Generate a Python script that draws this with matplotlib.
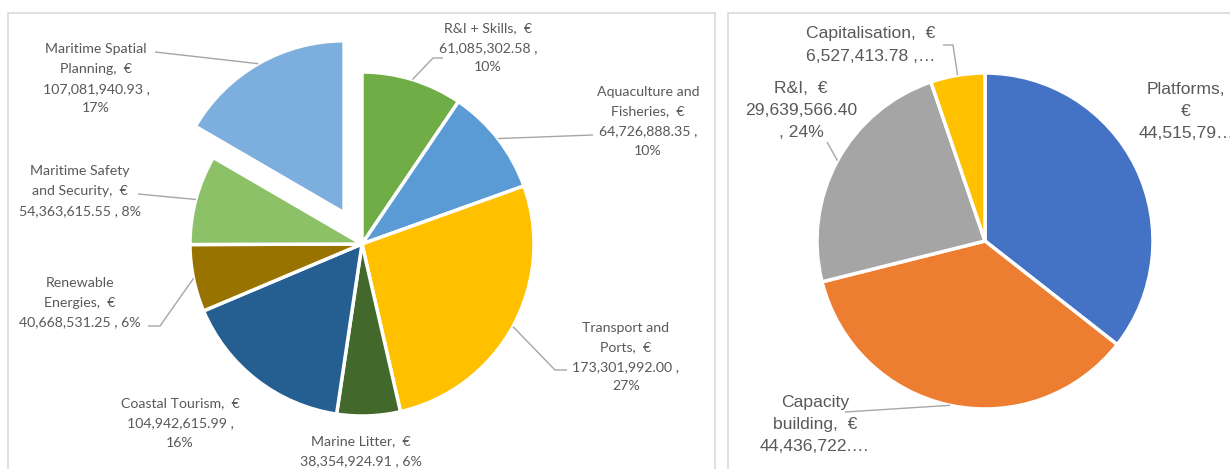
import numpy as np
import matplotlib.pyplot as plt
from matplotlib.patches import Rectangle

W, H = 1230, 469

# budget per theme (left pie)
themes = ["R&I + Skills", "Aquaculture and Fisheries", "Transport and Ports", "Marine Litter",
          "Coastal Tourism", "Renewable Energies", "Maritime Safety and Security",
          "Maritime Spatial Planning"]
theme_budget = [61085302.58, 64726888.35, 173301992.00, 38354924.91,
                104942615.99, 40668531.25, 54363615.55, 107081940.93]
theme_colors = ["#70AD47", "#5B9BD5", "#FFC000", "#43682B",
                "#255E91", "#997300", "#8CC168", "#7CAFDD"]
theme_labels = [
    ["R&I + Skills,  €", "61,085,302.58 ,", "10%"],
    ["Aquaculture and", "Fisheries,  €", "64,726,888.35 ,", "10%"],
    ["Transport and", "Ports,  €", "173,301,992.00 ,", "27%"],
    ["Marine Litter,  €", "38,354,924.91 , 6%"],
    ["Coastal Tourism,  €", "104,942,615.99 ,", "16%"],
    ["Renewable", "Energies,  €", "40,668,531.25 , 6%"],
    ["Maritime Safety", "and Security,  €", "54,363,615.55 , 8%"],
    ["Maritime Spatial", "Planning,  €", "107,081,940.93 ,", "17%"],
]

# budget per activity type (right pie)
activities = ["Platforms", "Capacity building", "R&I", "Capitalisation"]
activity_budget = [44515790.00, 44436722.00, 29639566.40, 6527413.78]
activity_colors = ["#4472C4", "#ED7D31", "#A5A5A5", "#FFC000"]
activity_labels = [
    ["Platforms,", "€", "44,515,79…"],
    ["Capacity", "building,  €", "44,436,722.…"],
    ["R&I,  €", "29,639,566.40", ", 24%"],
    ["Capitalisation,  €", "6,527,413.78 ,…"],
]

TXT = "#595959"
LEAD = "#A6A6A6"

fig = plt.figure(figsize=(W / 100, H / 100), dpi=100)
ax = fig.add_axes([0, 0, 1, 1])

# chart area frames
ax.add_patch(Rectangle((8, -10), 707, H - 13 + 10, fill=False, edgecolor="#D9D9D9", lw=1.2))
ax.add_patch(Rectangle((728, -10), 530, H - 13 + 10, fill=False, edgecolor="#D9D9D9", lw=1.2))

left_wedges, _ = ax.pie(theme_budget, colors=theme_colors, startangle=90, counterclock=False,
                        center=(362, H - 244), radius=172,
                        explode=[0, 0, 0, 0, 0, 0, 0, 36],
                        wedgeprops=dict(edgecolor="white", linewidth=2.5))
right_wedges, _ = ax.pie(activity_budget, colors=activity_colors, startangle=90, counterclock=False,
                         center=(985, H - 241), radius=168,
                         wedgeprops=dict(edgecolor="white", linewidth=2.5))


def anchor(w):
    t = np.deg2rad((w.theta1 + w.theta2) / 2)
    cx, cy = w.center
    return cx + w.r * np.cos(t), cy + w.r * np.sin(t)


def put_label(lines, cx, ys, size, family):
    for s, y in zip(lines, ys):
        ax.text(cx, H - y, s, ha="center", va="center", fontsize=size,
                family=family, color=TXT)


def leader(w, pts):
    x0, y0 = anchor(w)
    xs = [x0] + [p[0] for p in pts]
    ys = [y0] + [H - p[1] for p in pts]
    ax.plot(xs, ys, color=LEAD, lw=1.0, solid_capstyle="butt")


# left labels: center x, line y positions, leader elbow points
left_pos = [
    (488, [28, 48, 67], [(433, 58), (443, 58)]),
    (648, [92, 111, 131, 151], [(593, 135)]),
    (626, [328, 347, 367, 386], [(555, 370), (567, 370)]),
    (361, [441, 461], None),
    (180, [403, 423, 443], None),
    (80, [283, 303, 322], [(160, 326), (148, 326)]),
    (80, [171, 191, 211], [(138, 194)]),
    (96, [49, 69, 89, 108], [(155, 52)]),
]
for w, lines, (cx, ys, pts) in zip(left_wedges, theme_labels, left_pos):
    put_label(lines, cx, ys, 10.2, "Lato")
    if pts:
        leader(w, pts)

right_pos = [
    (1186, [89, 111, 133], None),
    (815, [403, 425, 446], [(845, 412)]),
    (801, [88, 110, 132], [(827, 142)]),
    (871, [33, 56], [(953, 45), (943, 45)]),
]
for w, lines, (cx, ys, pts) in zip(right_wedges, activity_labels, right_pos):
    put_label(lines, cx, ys, 12.6, "Liberation Sans")
    if pts:
        leader(w, pts)

ax.set_xlim(0, W)
ax.set_ylim(0, H)
ax.set_aspect("equal")
ax.axis("off")

fig.savefig("out.png", dpi=100)
